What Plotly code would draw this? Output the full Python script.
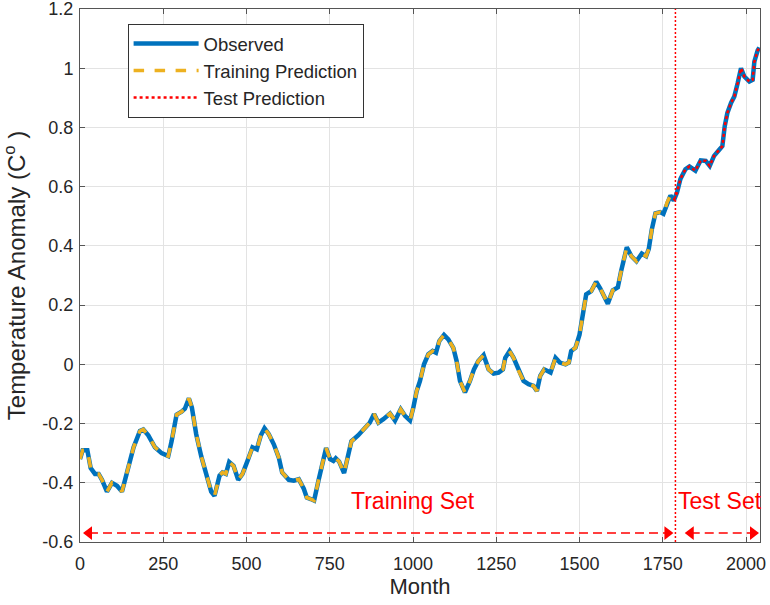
import plotly.graph_objects as go

# ---- data ----
months = [0, 8, 22, 32, 45, 56, 66, 81, 96, 111, 126, 136, 146, 161, 180, 190, 205, 225, 245,
          265, 275, 290, 305, 315, 327, 336, 349, 364, 384, 394, 404, 419, 428, 438, 448, 461,
          475, 488, 503, 518, 531, 543, 554, 567, 582, 597, 607, 627, 642, 657, 672, 681, 693,
          703, 716, 729, 739, 751, 761, 768, 778, 793, 803, 815, 835, 855, 870, 883, 896, 911,
          931, 946, 963, 976, 991, 1001, 1011, 1021, 1033, 1046, 1059, 1069, 1079, 1093, 1106,
          1121, 1131, 1141, 1156, 1171, 1183, 1196, 1212, 1227, 1242, 1257, 1270, 1277, 1290,
          1302, 1317, 1332, 1347, 1362, 1372, 1382, 1394, 1413, 1428, 1441, 1458, 1468, 1475,
          1488, 1500, 1512, 1520, 1535, 1550, 1562, 1572, 1585, 1600, 1615, 1625, 1642, 1656,
          1671, 1687, 1700, 1708, 1717, 1728, 1742, 1752, 1763, 1773, 1783, 1793, 1803, 1818,
          1830, 1848, 1864, 1879, 1891, 1904, 1919, 1929, 1936, 1944, 1955, 1965, 1975, 1985,
          1995, 2010, 2020, 2025, 2035, 2040]
observed = [-0.32, -0.29, -0.29, -0.35, -0.37, -0.37, -0.39, -0.43, -0.40, -0.41, -0.43, -0.39,
            -0.34, -0.28, -0.225, -0.22, -0.24, -0.28, -0.30, -0.31, -0.26, -0.17, -0.16, -0.15,
            -0.115, -0.146, -0.236, -0.31, -0.39, -0.43, -0.444, -0.376, -0.365, -0.37, -0.33,
            -0.343, -0.39, -0.37, -0.326, -0.28, -0.287, -0.24, -0.216, -0.236, -0.27, -0.315,
            -0.365, -0.39, -0.393, -0.388, -0.42, -0.45, -0.455, -0.46, -0.393, -0.326, -0.283,
            -0.32, -0.326, -0.317, -0.328, -0.367, -0.317, -0.26, -0.24, -0.213, -0.197, -0.168,
            -0.197, -0.185, -0.166, -0.19, -0.152, -0.174, -0.19, -0.146, -0.09, -0.056, 0.0,
            0.034, 0.045, 0.039, 0.079, 0.099, 0.084, 0.056, 0.011, -0.056, -0.095, -0.056,
            -0.017, 0.011, 0.031, -0.017, -0.031, -0.028, -0.017, 0.022, 0.045, 0.022, -0.022,
            -0.056, -0.067, -0.073, -0.09, -0.039, -0.017, -0.028, 0.022, 0.006, 0.0, 0.006,
            0.045, 0.056, 0.10, 0.18, 0.236, 0.247, 0.279, 0.257, 0.235, 0.205, 0.25, 0.26,
            0.315, 0.395, 0.365, 0.348, 0.374, 0.365, 0.39, 0.455, 0.51, 0.514, 0.508, 0.547,
            0.57, 0.553, 0.581, 0.626, 0.659, 0.668, 0.654, 0.689, 0.687, 0.67, 0.704, 0.724,
            0.737, 0.804, 0.849, 0.883, 0.905, 0.95, 1.0, 0.972, 0.955, 0.961, 1.022, 1.06, 1.07]

SPLIT_MONTH = 1788
X_MAX = 2042

x_ticks = [0, 250, 500, 750, 1000, 1250, 1500, 1750, 2000]
x_tick_labels = ["0", "250", "500", "750", "1000", "1250", "1500", "1750", "2000"]
y_ticks = [-0.6, -0.4, -0.2, 0, 0.2, 0.4, 0.6, 0.8, 1.0, 1.2]
y_tick_labels = ["-0.6", "-0.4", "-0.2", "0", "0.2", "0.4", "0.6", "0.8", "1", "1.2"]

train_idx = [i for i, m in enumerate(months) if m <= SPLIT_MONTH]
test_idx = [i for i, m in enumerate(months) if m >= months[train_idx[-1]]]
train_months = [months[i] for i in train_idx]
training_pred = [observed[i] for i in train_idx]
test_months = [months[i] for i in test_idx]
test_pred = [observed[i] for i in test_idx]

BLUE = "#0072BD"
ORANGE = "#EDB120"
RED = "#FF0000"
FONT = "Liberation Sans, Arial, sans-serif"
TXT = "#262626"

fig = go.Figure()
fig.add_trace(go.Scatter(x=months, y=observed, mode="lines", name="Observed",
                         line=dict(color=BLUE, width=4.5)))
fig.add_trace(go.Scatter(x=train_months, y=training_pred, mode="lines", name="Training Prediction",
                         line=dict(color=ORANGE, width=3.5, dash="dash")))
fig.add_trace(go.Scatter(x=test_months, y=test_pred, mode="lines", name="Test Prediction",
                         line=dict(color=RED, width=2.5, dash="3px,3px")))

# split line
fig.add_shape(type="line", x0=SPLIT_MONTH, x1=SPLIT_MONTH, y0=0, y1=1, xref="x", yref="paper",
              line=dict(color=RED, width=1.5, dash="2px,2px"))

# set arrows
ARROW_Y = -0.57
HEAD = 21  # months from tip to marker centre
def add_arrow(x_start, x_end):
    fig.add_trace(go.Scatter(x=[x_start + HEAD, x_end - HEAD], y=[ARROW_Y, ARROW_Y],
                             mode="lines", showlegend=False, hoverinfo="skip",
                             line=dict(color=RED, width=1.5, dash="9px,5px")))
    fig.add_trace(go.Scatter(x=[x_start + HEAD, x_end - HEAD], y=[ARROW_Y, ARROW_Y],
                             mode="markers", showlegend=False, hoverinfo="skip",
                             marker=dict(symbol=["triangle-left", "triangle-right"], size=12,
                                         color=RED, line=dict(width=0))))

add_arrow(6, SPLIT_MONTH - 3)
add_arrow(SPLIT_MONTH + 25, X_MAX)

fig.add_annotation(x=1000, y=-0.462, text="Training Set", showarrow=False,
                   font=dict(family=FONT, size=23, color=RED), xref="x", yref="y")
fig.add_annotation(x=1922, y=-0.462, text="Test Set", showarrow=False,
                   font=dict(family=FONT, size=23, color=RED), xref="x", yref="y")

axis_common = dict(showline=True, linecolor="#555555", linewidth=1, mirror="ticks",
                   ticks="inside", ticklen=5, tickcolor="#555555", showgrid=True,
                   gridcolor="#e3e3e3", gridwidth=1, zeroline=False, automargin=False,
                   ticklabeloverflow="allow",
                   tickfont=dict(family=FONT, size=18, color=TXT))

fig.update_layout(
    width=770, height=605,
    margin=dict(l=80, r=10, t=9, b=63),
    paper_bgcolor="white", plot_bgcolor="white",
    font=dict(family=FONT, color=TXT),
    xaxis=dict(range=[0, X_MAX], tickvals=x_ticks, ticktext=x_tick_labels,
               ticklabelstandoff=5,
               title=dict(text="Month", font=dict(family=FONT, size=22, color=TXT), standoff=2),
               **axis_common),
    yaxis=dict(range=[-0.6, 1.2], tickvals=y_ticks, ticktext=y_tick_labels,
               ticklabelstandoff=2,
               title=dict(text="Temperature Anomaly (C<sup>o</sup> )",
                          font=dict(family=FONT, size=24, color=TXT), standoff=10),
               **axis_common),
    legend=dict(x=0.07, y=0.972, xanchor="left", yanchor="top", bgcolor="white",
                bordercolor="#333333", borderwidth=1, itemwidth=65,
                font=dict(family=FONT, size=18.5, color=TXT), tracegroupgap=0),
    showlegend=True,
)

fig.write_html("out.html")
